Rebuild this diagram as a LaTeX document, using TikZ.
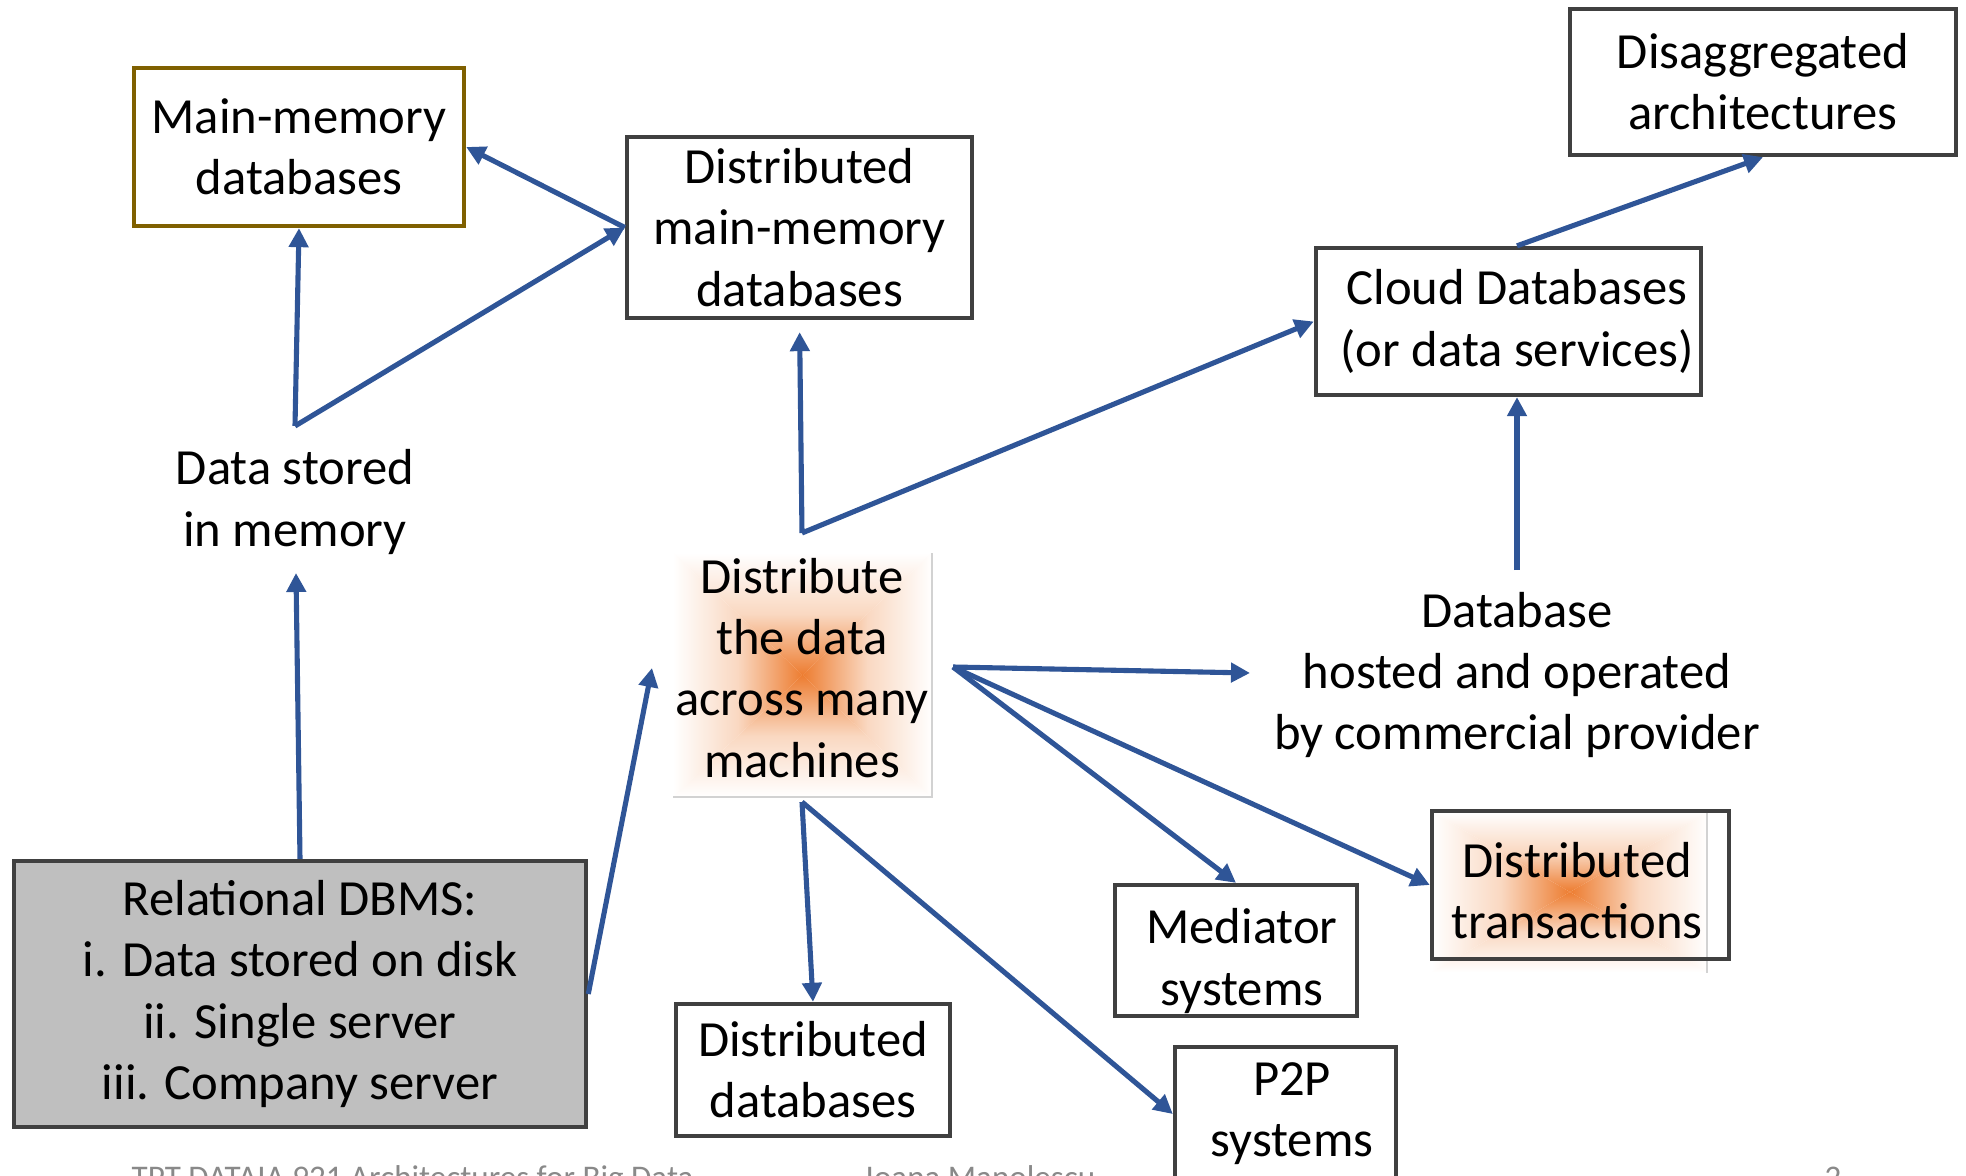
\documentclass[tikz,border=0pt]{standalone}
\usepackage{fontspec}
\setmainfont{Carlito}
\usetikzlibrary{arrows.meta}
\definecolor{arrowblue}{HTML}{2F5597}
\definecolor{boxgray}{HTML}{404040}
\definecolor{oliveedge}{HTML}{7F6000}
\definecolor{relfill}{HTML}{BFBFBF}
\definecolor{glowc}{HTML}{ED7D31}
\definecolor{footgray}{HTML}{898989}
\newcommand\myglow[4]{%
  \shade[top color=white, bottom color=glowc, middle color=glowc!30] (#1,#2) -- (#1-#3,#2-#4) -- (#1+#3,#2-#4) -- cycle;
  \shade[top color=glowc, bottom color=white, middle color=glowc!30] (#1,#2) -- (#1-#3,#2+#4) -- (#1+#3,#2+#4) -- cycle;
  \shade[left color=white, right color=glowc, middle color=glowc!30] (#1,#2) -- (#1-#3,#2-#4) -- (#1-#3,#2+#4) -- cycle;
  \shade[left color=glowc, right color=white, middle color=glowc!30] (#1,#2) -- (#1+#3,#2-#4) -- (#1+#3,#2+#4) -- cycle;
}
\begin{document}
\begin{tikzpicture}[x=0.01cm,y=-0.01cm,
  every node/.style={font=\fontsize{14.4pt}{17.4pt}\selectfont, align=center, inner sep=0pt},
  box/.style={draw=boxgray, line width=1.2pt},
  flow/.style={draw=arrowblue, line width=1.45pt, -{Triangle[length=0.19cm,width=0.19cm]}},
  foot/.style={font=\fontsize{9.4pt}{11pt}\selectfont, text=footgray, anchor=base west},
  edgeline/.style={draw=gray!35, line width=0.4pt}
]
\useasboundingbox (0,0) rectangle (1966,1176);

% glows
\myglow{802.5}{675}{129.5}{122}
\draw[edgeline] (932,553) -- (932,797) -- (673,797);
\myglow{1570}{892}{138}{80}
\draw[edgeline] (1707,811) -- (1707,973);

% nodes
\node[box, draw=oliveedge, minimum width=3.30cm, minimum height=1.58cm] (mm) at (299,147) {Main-memory\\databases};
\node[box, minimum width=3.45cm, minimum height=1.81cm] (dmm) at (799.5,227.5) {Distributed\\main-memory\\databases};
\node[box, minimum width=3.86cm, minimum height=1.46cm] (dis) at (1763,82) {Disaggregated\\architectures};
\node[box, minimum width=3.85cm, minimum height=1.47cm] (cloud) at (1508.5,321.5) {};
\node (cloudtext) at (1517,321.5) {Cloud Databases\\(or data services)};
\node (dsm) at (295,502) {Data stored\\in memory};
\node (dist) at (802,668) {Distribute\\the data\\across many\\machines};
\node (host) at (1517,675) {Database\\hosted and operated\\by commercial provider};
\node[box, fill=relfill, minimum width=5.72cm, minimum height=2.66cm] (rel) at (300,994) {Relational DBMS:\\i. Data stored on disk\\ii. Single server\\iii. Company server};
\node[box, minimum width=2.74cm, minimum height=1.32cm] (ddb) at (813,1070) {Distributed\\databases};
\node[box, minimum width=2.42cm, minimum height=1.31cm] (med) at (1236,950.5) {};
\node (medtext) at (1242,961) {Mediator\\systems};
\node[box, minimum width=2.97cm, minimum height=1.48cm] (dtx) at (1580.5,885) {};
\node (dtxtext) at (1577,891) {Distributed\\transactions};
\node[box, minimum width=2.21cm, minimum height=1.34cm] (p2p) at (1285.5,1114) {};
\node (p2ptext) at (1292,1114) {P2P\\systems};

% junction points
\coordinate (dsmtop) at (295,426);
\coordinate (dsmbot) at (296,573);
\coordinate (dtop) at (802,533);
\coordinate (dright) at (953,667);
\coordinate (dbot) at (802,802);
\coordinate (dleft) at (652,668);
\coordinate (hleft) at (1250,673);
\coordinate (htop) at (1517,570);

% connectors
\draw[flow] (dsmtop) -- (mm.south);
\draw[flow] (dsmtop) -- (dmm.west);
\draw[flow] (dmm.west) -- (mm.east);
\draw[flow] (rel.north) -- (dsmbot);
\draw[flow] (rel.east) -- (dleft);
\draw[flow, shorten >=0.12cm] (dtop) -- (dmm.south);
\draw[flow] (dtop) -- (cloud.west);
\draw[flow] (htop) -- (htop |- cloud.south);
\draw[flow] (htop |- cloud.north) -- (dis.south);
\draw[flow] (dright) -- (hleft);
\draw[flow] (dright) -- (med.north);
\draw[flow] (dright) -- (dtx.west);
\draw[flow] (dbot) -- (ddb.north);
\draw[flow] (dbot) -- (p2p.west);

% footer (cut off by the page edge, as in the reference)
\node[foot] (f1) at (131,1188) {TPT DATAIA 921 Architectures for Big Data};
\node[foot] (f2) at (865,1188) {Ioana Manolescu};
\node[foot] (f3) at (1824,1188) {2};
\end{tikzpicture}
\end{document}
